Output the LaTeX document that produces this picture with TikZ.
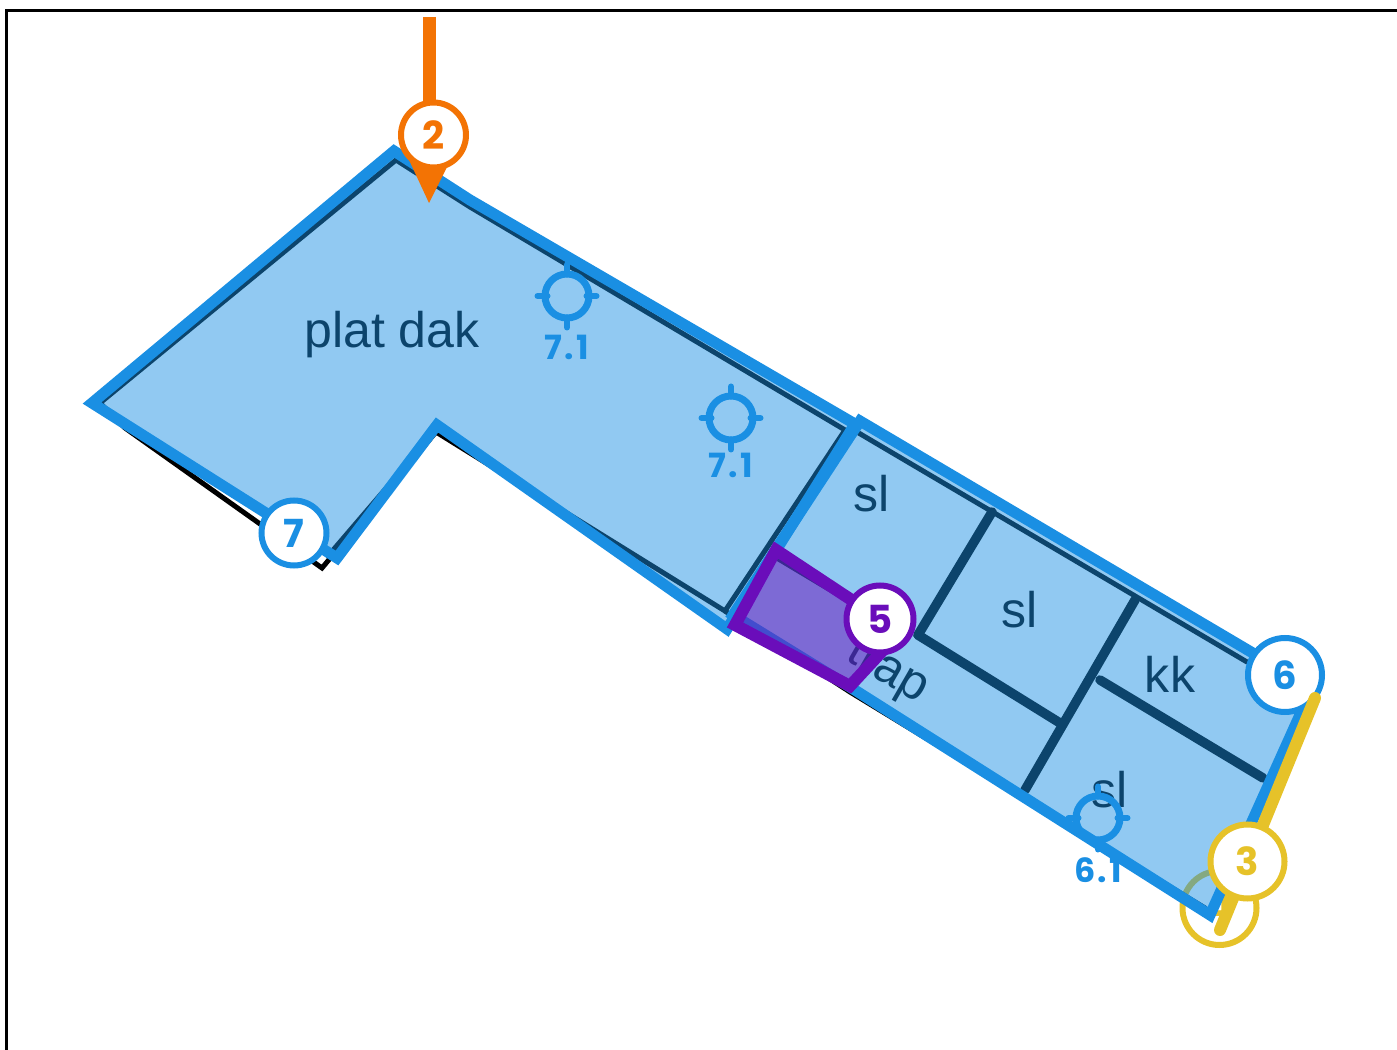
\documentclass[tikz,border=0pt]{standalone}
\usepackage{fontspec}
\setmainfont{Liberation Sans}
\newfontfamily\numfont{Poppins}
\newfontfamily\tlblfont{Poppins}[LetterSpace=7]
\usetikzlibrary{positioning}
\newcommand{\px}{0.02cm}
\definecolor{planblue}{HTML}{1A8FE3}
\definecolor{planorange}{HTML}{F37304}
\definecolor{planyellow}{HTML}{E6C229}
\definecolor{planpurple}{HTML}{6A0DBA}

\begin{document}
\begin{tikzpicture}[x=\px, y=-\px,
    wall/.style={draw=black, line width=9.5*\px, line cap=round},
    thinwall/.style={draw=black, line width=5*\px, line cap=round},
    room/.style={fill=planblue, fill opacity=0.48, draw=planblue, draw opacity=1, line width=11*\px, line join=miter},
    lbl/.style={text=black, font=\fontsize{28.5}{28.5}\selectfont, inner sep=0pt},
    marker/.style={circle, draw=#1, fill=white, text=#1, line width=6*\px, minimum size=65*\px, inner sep=0pt, font=\numfont\bfseries\fontsize{22}{22}\selectfont},
    target/.style={circle, draw=planblue, line width=7*\px, minimum size=44*\px, inner sep=0pt},
    tick/.style={draw=planblue, line width=6*\px, line cap=round},
    tlbl/.style={text=planblue, inner sep=0pt, font=\tlblfont\bfseries\fontsize{19}{19}\selectfont}]
    \useasboundingbox (0,0) rectangle (1397,1050);
    % Frame
    \draw[black, line width=3*\px] (6,1060) -- (6,11) -- (1405,11);

    % Hidden marker
    \node[marker=planyellow, minimum size=74*\px] (marker-4) at (1219.5,908) {4};

    % Plan underneath
    \draw[thinwall] (396,160) -- (470,207) -- (845,430) -- (725,611) -- (436,432) -- (322,568) -- (125,428) -- (100,403) -- cycle;
    \draw[thinwall] (430,437) -- (328,556);
    \draw[thinwall] (857,432) -- (1247,662);
    \draw[thinwall] (725,611) -- (850,692) -- (1205,908);
    \draw[line width=8*\px] (778,557) -- (860,606);
    \draw[wall] (992,512) -- (918,635);
    \draw[wall] (918,635) -- (1060,723);
    \draw[wall] (1135,600) -- (1025,790);
    \draw[wall] (1100,680) -- (1263,778);
    \node[lbl] (plat) at (392,335) {plat dak};
    \node[lbl] (sl-1) at (872,494) {sl};
    \node[lbl] (sl-2) at (1020,610) {sl};
    \node[lbl] (sl-3) at (1110,790) {sl};
    \node[lbl] (kk) at (1170,674) {kk};
    \node[lbl, rotate=-30] (trap) at (887,672) {trap};

    % Rooms
    \draw[room] (92,403) -- (394,151) -- (470,200) -- (855,424) -- (727,629) -- (437,425) -- (337,558) -- cycle;
    \draw[room] (860,421) -- (1312,688) -- (1210,915) -- (850,687) -- (733,615) -- cycle;

    % Selected room
    \draw[fill=planpurple, fill opacity=0.5, draw=planpurple, draw opacity=1, line width=12*\px] (776,550) -- (900,632) -- (850,686) -- (735,625) -- cycle;

    % Targets
    \node[target] (target-1) at (567,296) {};
    \node[target] (target-2) at (731,418) {};
    \node[target] (target-3) at (1098,818) {};
    \foreach \t in {target-1,target-2,target-3} {
        \draw[tick] ([yshift=-4*\px]\t.north) -- ([yshift=6*\px]\t.north);
        \draw[tick] ([yshift=4*\px]\t.south) -- ([yshift=-6*\px]\t.south);
        \draw[tick] ([xshift=4*\px]\t.east) -- ([xshift=-6*\px]\t.east);
        \draw[tick] ([xshift=-4*\px]\t.west) -- ([xshift=6*\px]\t.west);
    }
    \node[tlbl] (tlbl-1) at (567,347) {7.1};
    \node[tlbl] (tlbl-2) at (731,465) {7.1};
    \node[tlbl] (tlbl-3) at (1098,870) {6.1};

    % Markers and their lines
    \coordinate (orange-top) at (429.5,17);
    \coordinate (orange-tip) at (429,203);
    \coordinate (yellow-a) at (1315,698);
    \coordinate (yellow-b) at (1220,930);
    \draw[planorange, line width=13*\px] (orange-top) -- (429.5,110);
    \fill[planorange] (403,147) -- (orange-tip) -- (448,165) -- cycle;
    \node[marker=planorange] (marker-2) at (433.5,135) {2};
    \node[marker=planblue] (marker-7) at (294,533) {7};
    \node[marker=planpurple, minimum size=67*\px] (marker-5) at (880,619) {5};
    \node[marker=planblue, minimum size=74*\px] (marker-6) at (1285,675) {6};
    \draw[planyellow, line width=12*\px, line cap=round] (yellow-a) -- (yellow-b);
    \node[marker=planyellow, minimum size=74*\px] (marker-3) at (1247.5,861.5) {3};
\end{tikzpicture}
\end{document}
